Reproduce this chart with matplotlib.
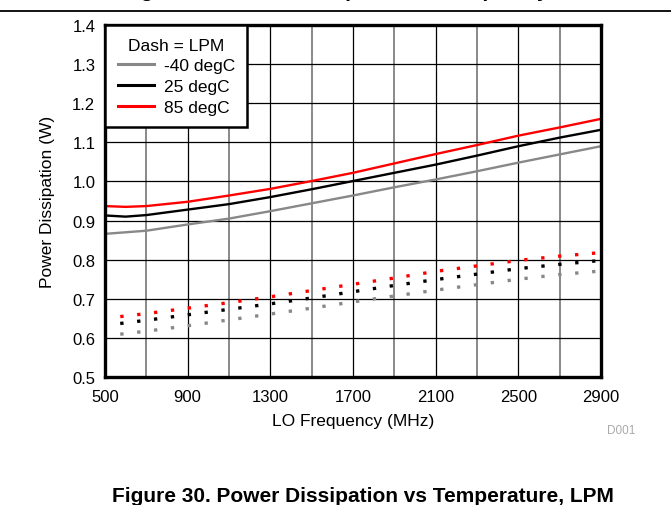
import numpy as np
import matplotlib.pyplot as plt
from matplotlib.lines import Line2D
from matplotlib.ticker import FixedLocator, FormatStrFormatter, MultipleLocator

plt.rcParams['font.family'] = ['Liberation Sans', 'DejaVu Sans']

# --- data ---
freq_solid = [500, 600, 700, 900, 1100, 1300, 1500, 1700, 1900, 2100, 2300, 2500, 2700, 2900]
hpm_m40 = [0.866, 0.870, 0.874, 0.890, 0.905, 0.924, 0.944, 0.964, 0.985, 1.005, 1.026, 1.048, 1.069, 1.090]
hpm_25 = [0.913, 0.910, 0.914, 0.928, 0.942, 0.960, 0.980, 1.001, 1.022, 1.043, 1.066, 1.090, 1.112, 1.132]
hpm_85 = [0.937, 0.935, 0.937, 0.948, 0.964, 0.981, 1.001, 1.022, 1.046, 1.070, 1.093, 1.117, 1.138, 1.160]

freq_dash = [500, 700, 900, 1100, 1300, 1500, 1700, 1900, 2100, 2300, 2500, 2700, 2900]
lpm_m40 = [0.605, 0.617, 0.631, 0.646, 0.661, 0.676, 0.692, 0.707, 0.722, 0.736, 0.750, 0.762, 0.771]
lpm_25 = [0.632, 0.645, 0.659, 0.673, 0.687, 0.702, 0.718, 0.734, 0.749, 0.763, 0.777, 0.788, 0.798]
lpm_85 = [0.650, 0.662, 0.676, 0.690, 0.705, 0.721, 0.737, 0.753, 0.770, 0.784, 0.798, 0.809, 0.818]

x_ticks = [500, 900, 1300, 1700, 2100, 2500, 2900]
x_minor = [700, 1100, 1500, 1900, 2300, 2700]
labels = ['-40 degC', '25 degC', '85 degC']
colors = ['#888888', '#000000', '#ff0000']

fig = plt.figure(figsize=(6.71, 5.06), dpi=100)
ax = fig.add_axes([0.1565, 0.253, 0.739, 0.6956])

for y, c in zip([hpm_m40, hpm_25, hpm_85], colors):
    ax.plot(freq_solid, y, color=c, lw=1.7, zorder=3)
for y, c in zip([lpm_m40, lpm_25, lpm_85], colors):
    ax.plot(freq_dash, y, color=c, lw=2.4, linestyle=(0.5, (1, 4.1)),
            dash_capstyle='butt', zorder=3)

ax.set_xlim(500, 2900)
ax.set_ylim(0.5, 1.4)
ax.xaxis.set_major_locator(FixedLocator(x_ticks))
ax.xaxis.set_minor_locator(FixedLocator(x_minor))
ax.yaxis.set_major_locator(MultipleLocator(0.1))
ax.yaxis.set_major_formatter(FormatStrFormatter('%.1f'))
ax.grid(which='major', axis='both', color='black', lw=0.9, zorder=1)
ax.grid(which='minor', axis='x', color='#808080', lw=1.3, zorder=1)
ax.tick_params(which='both', length=0, labelsize=12, colors='black')
ax.tick_params(axis='x', pad=9)
ax.tick_params(axis='y', pad=7)
ax.set_axisbelow(True)
for s in ax.spines.values():
    s.set_linewidth(2.4)
    s.set_color('black')
    s.set_zorder(5)

ax.set_xlabel('LO Frequency (MHz)', fontsize=12.5)
ax.xaxis.set_label_coords(0.5, -0.103)
ax.set_ylabel('Power Dissipation (W)', fontsize=12.5)
ax.yaxis.set_label_coords(-0.1, 0.5)

handles = [Line2D([], [], color=c, lw=2.2) for c in colors]
leg = ax.legend(handles, labels, title='Dash = LPM', loc='upper left',
                fontsize=12.5, title_fontsize=12.5, borderaxespad=0,
                fancybox=False, framealpha=1, edgecolor='black',
                handlelength=2.1, handletextpad=0.55, labelspacing=0.32,
                borderpad=0.72)
leg.get_frame().set_linewidth(1.8)
leg.set_zorder(6)

ax.text(1.04, -0.15, 'D001', transform=ax.transAxes, fontsize=8.5,
        color='#aaaaaa', ha='center', va='center')

# previous caption (cut off at the top) and separator rule
fig.text(0.541, 1.0065, 'Figure 29. Power Dissipation vs Frequency, HPM',
         ha='center', va='baseline', fontsize=15, fontweight='bold')
fig.add_artist(Line2D([0, 1], [0.976, 0.976], color='black', lw=1.3,
                      transform=fig.transFigure))
fig.text(0.541, 0.008, 'Figure 30. Power Dissipation vs Temperature, LPM',
         ha='center', va='baseline', fontsize=15, fontweight='bold')

fig.savefig('out.png', dpi=100)
